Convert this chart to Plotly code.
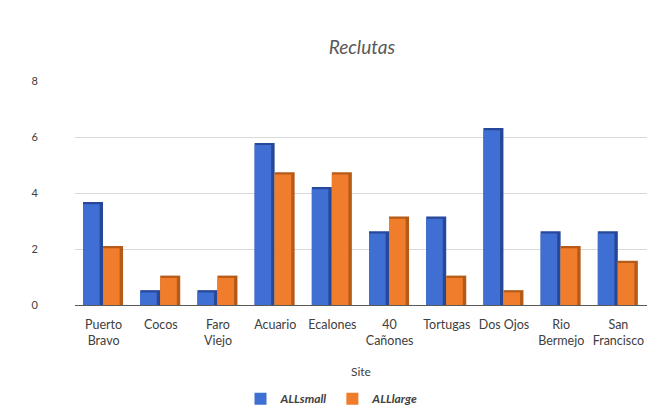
import plotly.graph_objects as go

# Recruits per site, two size classes
sites = ["Puerto<br>Bravo", "Cocos", "Faro<br>Viejo", "Acuario", "Ecalones",
         "40<br>Cañones", "Tortugas", "Dos Ojos", "Rio<br>Bermejo", "San<br>Francisco"]
all_small = [3.68, 0.53, 0.53, 5.79, 4.21, 2.63, 3.16, 6.32, 2.63, 2.63]
all_large = [2.11, 1.05, 1.05, 4.74, 4.74, 3.16, 1.05, 0.53, 2.11, 1.58]

series = [
    ("ALLsmall", all_small, "#3f6fd2", "#27489a", -0.36),
    ("ALLlarge", all_large, "#ef7d2c", "#b65a17", -0.01),
]

FULL_W = 0.35   # bar width incl. shaded side
FACE_W = 0.29   # front face width
CAP = 0.08      # shaded top depth (data units)

fig = go.Figure()
for name, vals, face, side, off in series:
    # darker block that shows as the right-hand side and top bevel
    fig.add_trace(go.Bar(
        x=sites, y=vals, name=name, showlegend=False,
        marker=dict(color=side, line=dict(width=0)),
        width=[FULL_W] * len(vals), offset=[off] * len(vals),
        hoverinfo="skip",
    ))
    # front face
    fig.add_trace(go.Bar(
        x=sites, y=[v - CAP for v in vals], name=name,
        marker=dict(color=face, line=dict(width=0)),
        width=[FACE_W] * len(vals), offset=[off] * len(vals),
        customdata=vals, hovertemplate="%{x}: %{customdata}<extra>" + name + "</extra>",
    ))

fig.update_layout(
    width=664, height=409,
    barmode="overlay",
    paper_bgcolor="white", plot_bgcolor="white",
    margin=dict(l=75, r=17, t=81, b=104),
    font=dict(family="Lato, 'Open Sans', sans-serif", color="#404040", size=11),
    title=dict(text="<i>Reclutas</i>", x=0.545, xanchor="center",
               y=0.885, yanchor="middle",
               font=dict(size=19, color="#595959")),
    xaxis=dict(
        type="category", showgrid=False, showline=True,
        linecolor="#595959", linewidth=1, ticks="",
        tickfont=dict(size=12.5, color="#404040"),
        ticklabelstandoff=8,
        title=dict(text="Site", standoff=20, font=dict(size=12, color="#404040")),
        automargin=False,
    ),
    yaxis=dict(
        range=[0, 8], dtick=2, showgrid=True, gridcolor="#d9d9d9", gridwidth=1,
        zeroline=False, showline=False, ticks="",
        tickfont=dict(size=11, color="#404040"),
        ticklabelstandoff=36, automargin=False,
    ),
    legend=dict(
        orientation="h", xref="container", yref="container",
        x=0.5, xanchor="center", y=0.025, yanchor="middle",
        font=dict(size=12, color="#404040"),
        itemwidth=30, traceorder="normal",
    ),
)

# bold italic legend labels
for tr in fig.data:
    if tr.showlegend is not False:
        tr.name = "<b><i>" + tr.name + "</i></b>"

fig.write_html("out.html")
